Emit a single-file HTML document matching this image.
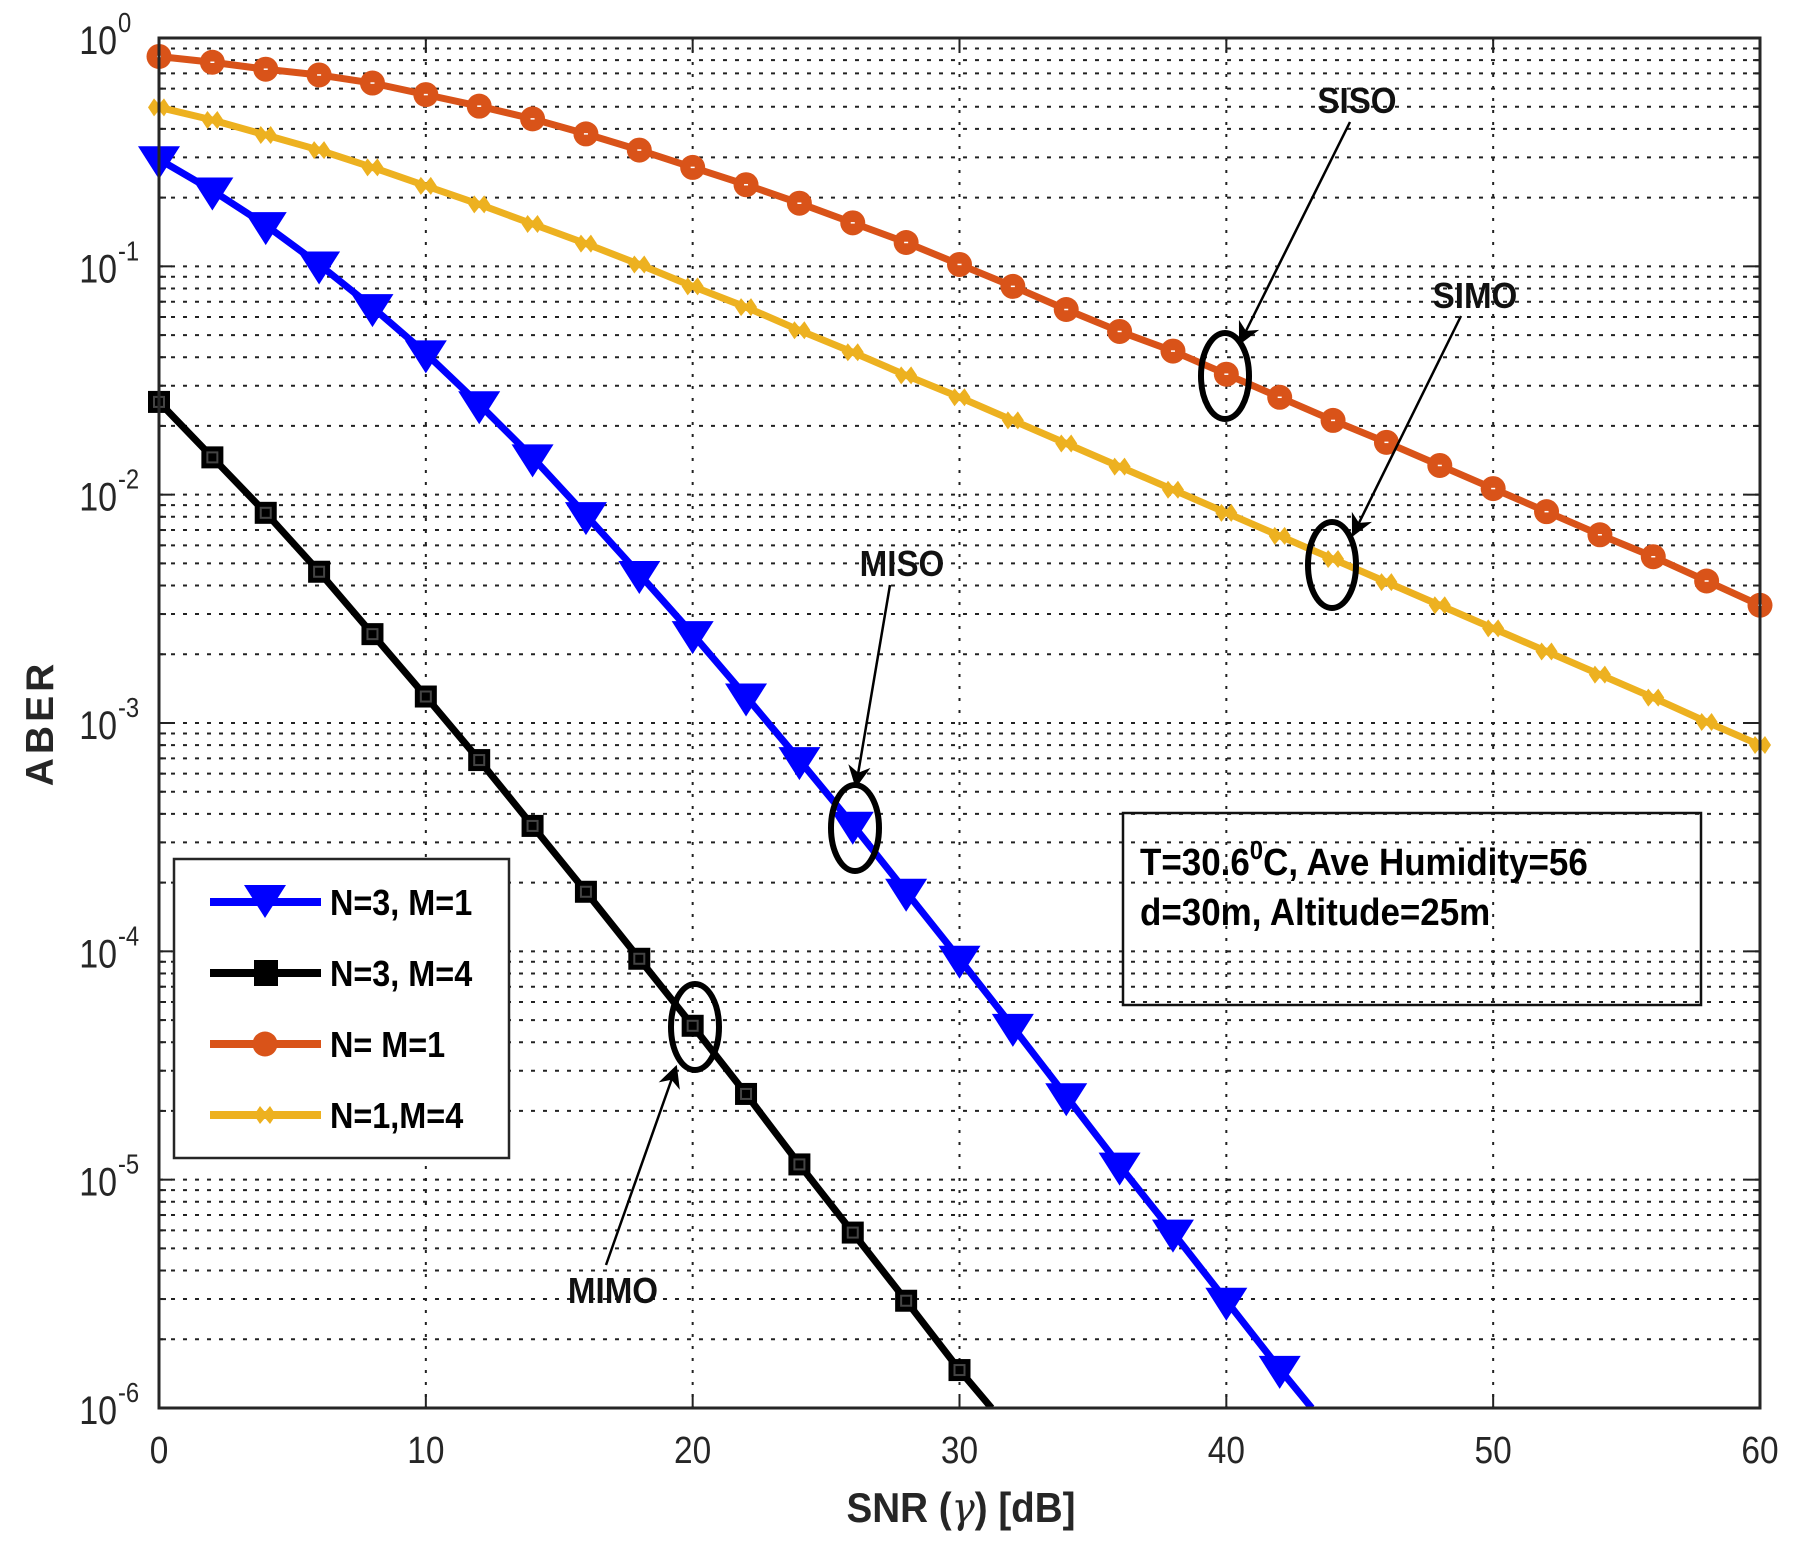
<!DOCTYPE html>
<html><head><meta charset="utf-8"><style>
html,body{margin:0;padding:0;background:#fff}
svg{display:block}
text{font-family:"Liberation Sans",sans-serif}
</style></head><body>
<svg id="s" width="1809" height="1563" viewBox="0 0 1809 1563" xmlns="http://www.w3.org/2000/svg"></svg>
<script>
const s=document.getElementById('s');
const L=159,R=1760,T=38,B=1408;
const dec=(B-T)/6;
const X=v=>L+v*(R-L)/60;
const Yl=v=>T+(-Math.log10(v))*dec;
const Dy=d=>38+(d-35)*1.1553;
let h='';
for(let i=1;i<6;i++){const x=X(i*10);h+=`<line x1="${x}" y1="${T}" x2="${x}" y2="${B}" stroke="#222" stroke-width="2" stroke-dasharray="3,9"/>`;}
for(let d=0;d<6;d++){for(let m=1;m<10;m++){const y=Yl(m*Math.pow(10,-d-1));if(y<=T+1)continue;
h+=`<line x1="${L}" y1="${y}" x2="${R}" y2="${y}" stroke="#222" stroke-width="2" stroke-dasharray="4,8"/>`;
const tl=m==1?13:7;h+=`<line x1="${L}" y1="${y}" x2="${L+tl}" y2="${y}" stroke="#222" stroke-width="2"/><line x1="${R}" y1="${y}" x2="${R-tl}" y2="${y}" stroke="#222" stroke-width="2"/>`;}}
for(let i=1;i<6;i++){const x=X(i*10);h+=`<line x1="${x}" y1="${B}" x2="${x}" y2="${B-14}" stroke="#222" stroke-width="2"/><line x1="${x}" y1="${T}" x2="${x}" y2="${T+14}" stroke="#222" stroke-width="2"/>`;}
const orange=[51,56,62,67,74,84,94,105,118,132,147,162,178,195,212,231,250,270,289,306,326,346,366,385,405,425,445,465,484,505,526];
const yellow=[95,106,119,132,147,163,179,196,213,231,250,268,288,307,327,346,366,386,406,426,446,466,486,506,526,546,566,586,606,627,647];
const blue=[140,167,197,231,268,308,352,398,448,499,551,605,660,716,774,832,891,951,1011,1069,1128,1187];
const black=[350,398,446,497,551,605,660,717,774,832,890,949,1010,1069,1128,1188];
function pts(a){return a.map((d,i)=>[X(i*2),Dy(d)]);}
function line(p,c,extra){let q=p.slice();if(extra)q.push(extra);return `<polyline points="${q.map(v=>v.join(',')).join(' ')}" fill="none" stroke="${c}" stroke-width="7" stroke-linejoin="round"/>`;}
const po=pts(orange),py=pts(yellow),pb=pts(blue),pk=pts(black);
h+=`<g clip-path="url(#c)">`;
h+=line(py,'#EDB120');
h+=line(po,'#D95319');
h+=line(pb,'#0000FF',[X(43.2),B]);
h+=line(pk,'#000',[X(31.2),B]);
function tri(x,y,c){return `<polygon points="${x-21},${y-13} ${x+21},${y-13} ${x},${y+20}" fill="${c}"/>`;}
function sq(x,y){return `<rect x="${x-11}" y="${y-11}" width="22" height="22" fill="#000"/><rect x="${x-5}" y="${y-5}" width="10" height="10" fill="none" stroke="#444" stroke-width="2"/>`;}
function circ(x,y){return `<circle cx="${x}" cy="${y}" r="12.5" fill="#D95319"/><line x1="${x-2}" y1="${y}" x2="${x+2}" y2="${y}" stroke="#fff" stroke-width="1.5"/>`;}
function star(x,y){return `<path d="M${x-11},${y} L${x-5},${y-9} L${x},${y-3} L${x+5},${y-9} L${x+11},${y} L${x+5},${y+9} L${x},${y+3} L${x-5},${y+9}Z" fill="#EDB120"/>`;}
py.forEach(p=>h+=star(p[0],p[1]));
po.forEach(p=>h+=circ(p[0],p[1]));
pb.forEach(p=>h+=tri(p[0],p[1],'#0000FF'));
pk.forEach(p=>h+=sq(p[0],p[1]));
h+=`</g>`;
h=`<defs><clipPath id="c"><rect x="${L-25}" y="${T-25}" width="${R-L+50}" height="${B-T+25}"/></clipPath><marker id="ar" viewBox="0 0 10 10" refX="9" refY="5" markerWidth="9" markerHeight="9" orient="auto"><path d="M0,0 L10,5 L0,10 L3,5Z" fill="#000"/></marker></defs>`+h;
h+=`<rect x="${L}" y="${T}" width="${R-L}" height="${B-T}" fill="none" stroke="#262626" stroke-width="3"/>`;
for(let i=0;i<=6;i++){h+=`<text x="${X(i*10)}" y="${1463}" font-size="38" text-anchor="middle" fill="#262626" transform="translate(${X(i*10)},0) scale(0.88,1) translate(${-X(i*10)},0)">${i*10}</text>`;}
for(let d=0;d<=6;d++){const y=T+d*dec;const lab=d==0?'0':'-'+d;
h+=`<text x="117" y="${y+16}" font-size="40" text-anchor="end" fill="#262626" transform="translate(117,0) scale(0.85,1) translate(-117,0)">10</text><text x="118" y="${y-6}" font-size="28" fill="#262626" transform="translate(118,0) scale(0.85,1) translate(-118,0)">${lab}</text>`;}
h+=`<text x="961" y="1522" font-size="42" font-weight="bold" text-anchor="middle" fill="#262626" transform="translate(961,0) scale(0.92,1) translate(-961,0)">SNR (<tspan font-family="DejaVu Serif" font-style="italic" font-weight="normal">γ</tspan>) [dB]</text>`;
h+=`<text x="0" y="0" font-size="39" font-weight="bold" text-anchor="middle" fill="#262626" letter-spacing="4" transform="translate(53,723) rotate(-90)">ABER</text>`;
h+=`<rect x="174" y="859" width="335" height="299" fill="#fff" stroke="#262626" stroke-width="2.5"/>`;
const ly=[902,973,1044,1115],lc=['#0000FF','#000','#D95319','#EDB120'],lt=['N=3, M=1','N=3, M=4','N= M=1','N=1,M=4'];
for(let i=0;i<4;i++){h+=`<line x1="210" y1="${ly[i]}" x2="321" y2="${ly[i]}" stroke="${lc[i]}" stroke-width="8"/>`;
const x=265,y=ly[i];h+=[tri(x,y-4,'#0000FF'),`<rect x="254" y="${y-13}" width="24" height="26" fill="#000"/>`,`<circle cx="${x}" cy="${y}" r="12.5" fill="#D95319"/>`,star(x,y)][i];
h+=`<text x="330" y="${ly[i]+13}" font-size="36" font-weight="bold" fill="#000" transform="translate(330,0) scale(0.9,1) translate(-330,0)">${lt[i]}</text>`;}
h+=`<rect x="1123" y="813" width="578" height="192" fill="none" stroke="#111" stroke-width="2.5"/>`;
h+=`<text x="1140" y="875" font-size="38" font-weight="bold" fill="#000" transform="translate(1140,0) scale(0.92,1) translate(-1140,0)">T=30.6<tspan font-size="26" dy="-16">0</tspan><tspan dy="16">C, Ave Humidity=56</tspan></text>`;
h+=`<text x="1140" y="925" font-size="38" font-weight="bold" fill="#000" transform="translate(1140,0) scale(0.92,1) translate(-1140,0)">d=30m, Altitude=25m</text>`;
function ann(t,tx,ty,ex,ey,rx,ry,x1,y1,x2,y2){return `<text x="${tx}" y="${ty+13}" font-size="36" font-weight="bold" text-anchor="middle" fill="#111" transform="translate(${tx},0) scale(0.92,1) translate(${-tx},0)">${t}</text><ellipse cx="${ex}" cy="${ey}" rx="${rx}" ry="${ry}" fill="none" stroke="#000" stroke-width="6"/><line x1="${x1}" y1="${y1}" x2="${x2}" y2="${y2}" stroke="#000" stroke-width="2.5" marker-end="url(#ar)"/>`;}
h+=ann('SISO',1357,100,1225,376,24,43,1350,122,1240,343);
h+=ann('SIMO',1475,295,1332,565,24,43,1461,316,1353,535);
h+=ann('MISO',902,563,855,828,24,43,890,585,856,786);
h+=ann('MIMO',613,1290,695,1027,24,43,606,1265,676,1067);
s.innerHTML=h;
</script>
</body></html>
